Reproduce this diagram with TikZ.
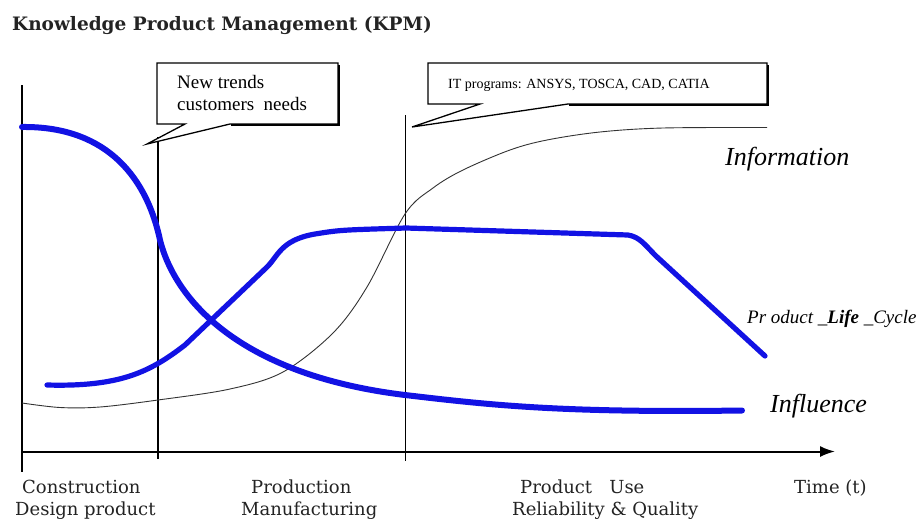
\documentclass[tikz,border=0pt]{standalone}
\usepackage{fontspec}
\setmainfont{DejaVu Serif}
\newfontfamily\tms{Liberation Serif}
\usetikzlibrary{arrows.meta}
\definecolor{cblue}{RGB}{18,18,228}
\definecolor{ctext}{RGB}{35,35,35}
\begin{document}
\begin{tikzpicture}[x=1pt,y=-1pt,
  bluecurve/.style={cblue, line width=6pt, line cap=round, line join=round},
  infocurve/.style={black!80, line width=0.9pt},
  axisline/.style={black, line width=2pt},
  phaseline/.style={black, line width=1.4pt},
  callbox/.style={black, line width=1.3pt, fill=white},
  boxshadow/.style={black, line width=1.6pt},
  lbl/.style={anchor=base west, inner sep=0pt, text=ctext, font=\fontsize{18}{22}\selectfont},
  ital/.style={anchor=base west, inner sep=0pt, font=\tms\itshape\fontsize{26}{30}\selectfont},
  calltext/.style={anchor=base west, inner sep=0pt, font=\tms\fontsize{19}{22}\selectfont}]
\useasboundingbox (0,0) rectangle (924,523);

% title
\node[anchor=base west, inner sep=0pt, text=ctext, font=\bfseries\fontsize{18.5}{22}\selectfont] (title) at (12,30) {Knowledge Product Management (KPM)};

% axes
\coordinate (ytop) at (22,85);
\coordinate (ybot) at (22,472);
\coordinate (xl) at (22,451.5);
\coordinate (xr) at (835,451.5);
\draw[phaseline] (ytop) -- (ybot);
\draw[axisline, -{Latex[length=15pt,width=11pt]}] (xl) -- (xr);

% phase lines
\coordinate (p1t) at (158,137);
\coordinate (p1b) at (158,459);
\coordinate (p2t) at (405.5,115);
\coordinate (p2b) at (405.5,461);
\draw[phaseline] (p1t) -- (p1b);
\draw[phaseline] (p2t) -- (p2b);

% callout 1
\draw[callbox] (157,63) -- (338,63) -- (338,124) -- (230,124) -- (147,144) -- (185,124) -- (157,124) -- cycle;
\draw[boxshadow] (339.2,65) -- (339.2,125.2) -- (231,125.2);
\node[calltext] (c1a) at (177,88) {New trends};
\node[calltext] (c1b) at (177,110) {customers\ \ needs};

% callout 2
\draw[callbox] (428,63) -- (767,63) -- (767,104) -- (568,104) -- (412,127) -- (480,104) -- (428,104) -- cycle;
\draw[boxshadow] (768.2,65) -- (768.2,105.2) -- (569,105.2);
\node[anchor=base west, inner sep=0pt, font=\tms\fontsize{14}{16}\selectfont] (c2) at (448,88) {IT programs: ANSYS, TOSCA, CAD, CATIA};

% information curve
\draw[infocurve] plot[smooth, tension=0.55] coordinates {(22,403) (60,407.5) (100,407) (158,400) (230,389) (283,372) (333,333) (367,287) (405,214) (433,188) (463,170) (510,150) (547,140) (600,132) (663,128) (767,127.5)};

% influence curve
\draw[bluecurve] (22,127) .. controls (100,126) and (145,170) .. (160,240)
  .. controls (175,300) and (240,375) .. (405,395)
  .. controls (490,405) and (560,413) .. (742,410.5);

% product life cycle curve
\draw[bluecurve, line width=5.2pt] (47,385) .. controls (120,387) and (150,372) .. (185,345)
  -- (266,268) .. controls (278,257) and (280,240) .. (315,234)
  .. controls (340,230) .. (406,228)
  -- (628,235) .. controls (640,237) and (645,245) .. (656,256)
  -- (765,356);

% curve labels
\node[ital] (linfo) at (725,165) {Information};
\node[ital] (linfl) at (770,412) {Influence};
\node[anchor=base west, inner sep=0pt, font=\tms\itshape\fontsize{19}{22}\selectfont] (lplc) at (747,323) {Pr oduct \_\textbf{Life} \_Cycle};

% phase labels
\node[lbl] (a1) at (22,493) {Construction};
\node[lbl] (a2) at (15,515) {Design product};
\node[lbl] (b1) at (251,493) {Production};
\node[lbl] (b2) at (241,515) {Manufacturing};
\node[lbl] (d1) at (520,493) {Product\ \ \ Use};
\node[lbl] (d2) at (512,515) {Reliability \& Quality};
\node[lbl] (t1) at (794,493) {Time (t)};
\end{tikzpicture}
\end{document}
